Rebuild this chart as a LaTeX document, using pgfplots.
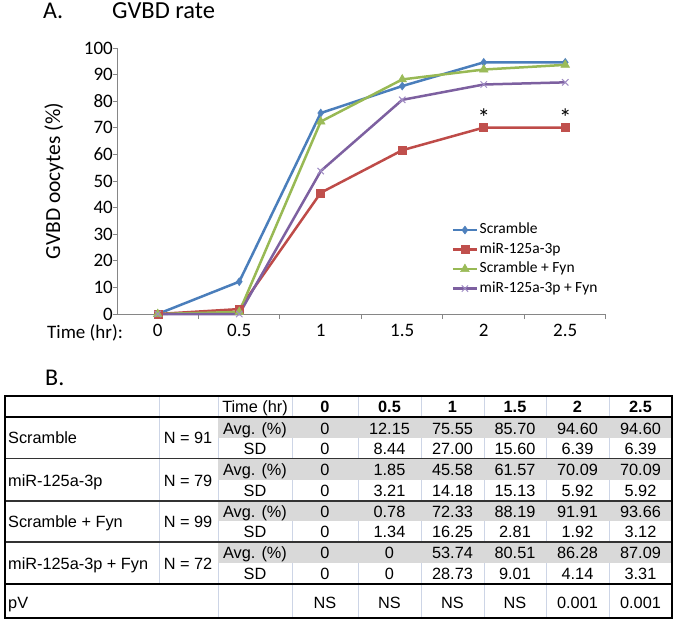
\documentclass[border=0pt]{standalone}
\usepackage{fontspec}
\setmainfont{Carlito}
\newfontfamily\arialf{Liberation Sans}
\usepackage{pgfplots}
\pgfplotsset{compat=1.18}
\definecolor{axisgray}{HTML}{868686}
\definecolor{cblue}{HTML}{4A7EBB}
\definecolor{cbluef}{HTML}{4F81BD}
\definecolor{cred}{HTML}{BE4B48}
\definecolor{credf}{HTML}{C0504D}
\definecolor{cgreen}{HTML}{98B954}
\definecolor{cgreenf}{HTML}{9BBB59}
\definecolor{cpurple}{HTML}{7D60A0}
\definecolor{cpurplem}{HTML}{A08CC4}
\definecolor{cellgray}{HTML}{D9D9D9}
\definecolor{vline}{HTML}{CDD5E6}
\newcommand{\fs}[1]{\fontsize{#1}{#1}\selectfont}
\newcommand{\tc}[3]{\node[anchor=base,inner sep=0pt] at (#1pt,-#2pt) {#3};}
\newcommand{\tl}[3]{\node[anchor=base west,inner sep=0pt] at (#1pt,-#2pt) {#3};}
\newcommand{\vrow}[7]{\tc{325}{#1}{#2}\tc{389.5}{#1}{#3}\tc{452.5}{#1}{#4}\tc{515}{#1}{#5}\tc{577.5}{#1}{#6}\tc{640.5}{#1}{#7}}
\begin{document}
\begin{tikzpicture}
\path[use as bounding box] (0pt,0pt) rectangle (675pt,-622pt);
\node[anchor=base west, inner sep=0pt, font=\fs{24}] at (43pt,-18pt) {A.};
\node[anchor=base west, inner sep=0pt, font=\fs{24.5}] at (112pt,-18pt) {GVBD rate};
\node[rotate=90, inner sep=0pt, font=\fs{21.5}] at (54pt,-181pt) {GVBD oocytes (\%)};
\node[anchor=base west, inner sep=0pt, font=\fs{19}] at (47pt,-338pt) {Time (hr):};
\begin{axis}[
 at={(117pt,-314pt)}, anchor=south west,
 scale only axis, width=489pt, height=266pt,
 xmin=-0.5, xmax=5.5, ymin=0, ymax=100,
 axis x line*=bottom, axis y line*=left,
 axis line style={draw=axisgray, line width=1pt, -},
 x axis line style={-}, y axis line style={-},
 xtick={0,1,2,3,4,5}, xticklabels={0,0.5,1,1.5,2,2.5},
 minor xtick={0.5,1.5,2.5,3.5,4.5,5.5},
 ytick={0,10,...,100},
 tick align=outside,
 major tick length=4pt, minor tick length=5pt,
 tick style={draw=axisgray, line width=1pt},
 major x tick style={draw=none},
 /pgf/number format/assume math mode=true,
 ticklabel style={font=\fs{19}},
 yticklabel style={inner xsep=0pt},
 xticklabel style={yshift=-3pt},
 clip=false,
 legend style={at={(0.684,0.353)}, anchor=north west, draw=none, fill=none,
   inner sep=0pt, column sep=0pt, row sep=0pt, font=\fs{15.5},
   nodes={inner xsep=1.5pt, inner ysep=2.5pt, text height=11pt, text depth=3.5pt}},
 legend cell align=left,
 legend image code/.code={\draw[mark repeat=2, mark phase=2, #1] plot coordinates {(0pt,0pt) (12pt,0pt) (24pt,0pt)};},
]
\addplot[color=cblue, line width=2.5pt, mark=diamond*, mark size=4pt, mark options={fill=cbluef, draw=cbluef, line width=0.5pt}]
 coordinates {(0,0) (1,12.15) (2,75.55) (3,85.70) (4,94.60) (5,94.60)};
\addlegendentry{Scramble}
\addplot[color=cred, line width=2.5pt, mark=square*, mark size=4pt, mark options={fill=credf, draw=credf, line width=0.5pt}]
 coordinates {(0,0) (1,1.85) (2,45.58) (3,61.57) (4,70.09) (5,70.09)};
\addlegendentry{miR-125a-3p}
\addplot[color=cgreen, line width=2.5pt, mark=triangle*, mark size=5pt, mark options={fill=cgreenf, draw=cgreenf, line width=0.5pt}]
 coordinates {(0,0) (1,0.78) (2,72.33) (3,88.19) (4,91.91) (5,93.66)};
\addlegendentry{Scramble + Fyn}
\addplot[color=cpurple, line width=2.5pt, mark=x, mark size=4.5pt, mark options={draw=cpurplem, line width=1pt}]
 coordinates {(0,0) (1,0) (2,53.74) (3,80.51) (4,86.28) (5,87.09)};
\addlegendentry{miR-125a-3p + Fyn}
\node[font=\fs{25}, yshift=10pt] at (axis cs:4,70) {*};
\node[font=\fs{25}, yshift=10pt] at (axis cs:5,70) {*};
\end{axis}
\node[anchor=base west, inner sep=0pt, font=\fs{24}] at (45pt,-385pt) {B.};
\begin{scope}[font=\arialf\fs{16.3}]
\draw[vline, line width=1pt] (159pt,-396pt) -- (159pt,-584pt);
\foreach \x in {218,292,358,421,484,546,609} \draw[vline, line width=1pt] (\x pt,-396pt) -- (\x pt,-618pt);
\fill[cellgray] (218pt,-417pt) rectangle (672pt,-438pt);
\fill[cellgray] (218pt,-459pt) rectangle (672pt,-480pt);
\fill[cellgray] (218pt,-501pt) rectangle (672pt,-521pt);
\fill[cellgray] (218pt,-542pt) rectangle (672pt,-563pt);
\draw[black, line width=2pt] (4pt,-417pt) -- (672pt,-417pt);
\foreach \y in {458.5,501,542} \draw[black!80, line width=1.5pt] (4pt,-\y pt) -- (672pt,-\y pt);
\draw[black, line width=2pt] (4pt,-584pt) -- (672pt,-584pt);
\draw[black, line width=2.5pt] (5pt,-396pt) rectangle (672pt,-618pt);
\tc{255}{412}{Time (hr)}
\vrow{412}{\textbf{0}}{\textbf{0.5}}{\textbf{1}}{\textbf{1.5}}{\textbf{2}}{\textbf{2.5}}
\tl{8}{443}{Scramble}
\tc{188}{443}{N = 91}
\tc{255}{434}{Avg. (\%)}
\tc{255}{454}{SD}
\vrow{434}{0}{12.15}{75.55}{85.70}{94.60}{94.60}
\vrow{454}{0}{8.44}{27.00}{15.60}{6.39}{6.39}
\tl{8}{486}{miR-125a-3p}
\tc{188}{486}{N = 79}
\tc{255}{475}{Avg. (\%)}
\tc{255}{496}{SD}
\vrow{475}{0}{1.85}{45.58}{61.57}{70.09}{70.09}
\vrow{496}{0}{3.21}{14.18}{15.13}{5.92}{5.92}
\tl{8}{527}{Scramble + Fyn}
\tc{188}{527}{N = 99}
\tc{255}{517}{Avg. (\%)}
\tc{255}{537}{SD}
\vrow{517}{0}{0.78}{72.33}{88.19}{91.91}{93.66}
\vrow{537}{0}{1.34}{16.25}{2.81}{1.92}{3.12}
\tl{8}{569}{miR-125a-3p + Fyn}
\tc{188}{569}{N = 72}
\tc{255}{558}{Avg. (\%)}
\tc{255}{579}{SD}
\vrow{558}{0}{0}{53.74}{80.51}{86.28}{87.09}
\vrow{579}{0}{0}{28.73}{9.01}{4.14}{3.31}
\tl{8}{608}{pV}
\vrow{608}{NS}{NS}{NS}{NS}{0.001}{0.001}
\end{scope}
\end{tikzpicture}
\end{document}
